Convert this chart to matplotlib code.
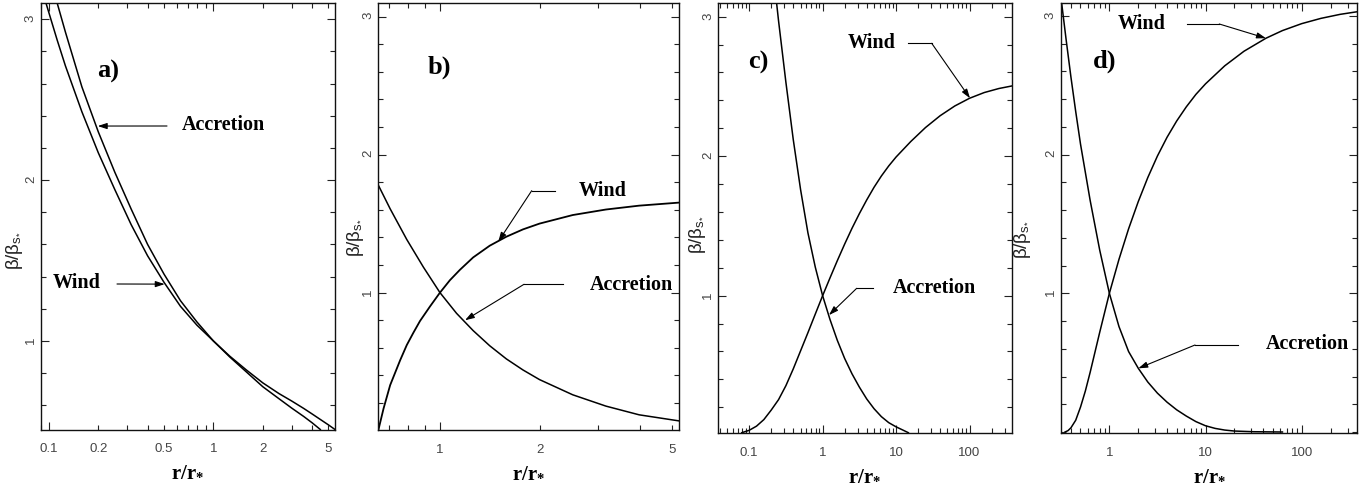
import matplotlib
matplotlib.use('Agg')
import matplotlib.pyplot as plt
from matplotlib import font_manager as fm
from matplotlib.ticker import FixedLocator, FuncFormatter, MultipleLocator
from matplotlib.lines import Line2D

W, H = 1369, 486

# ---------------- data ----------------
# panel a
a_wind_r = [0.0959, 0.1122, 0.1259, 0.1585, 0.1995, 0.2512, 0.3162, 0.3981, 0.5012, 0.631,
            0.7943, 1.0, 1.259, 1.585, 2.0, 2.512, 3.0, 3.548, 4.0, 4.477]
a_wind_y = [3.10, 2.87, 2.71, 2.425, 2.17, 1.942, 1.723, 1.529, 1.364, 1.215,
            1.098, 1.0, 0.90, 0.808, 0.715, 0.64, 0.582, 0.53, 0.49, 0.449]
a_accr_r = [0.1122, 0.1259, 0.1585, 0.1995, 0.2512, 0.3162, 0.3981, 0.5012, 0.631, 0.7943,
            1.0, 1.259, 1.585, 2.0, 2.512, 3.0, 3.548, 4.0, 5.012, 5.5]
a_accr_y = [3.10, 2.92, 2.58, 2.30, 2.05, 1.82, 1.60, 1.415, 1.25, 1.118,
            1.0, 0.905, 0.82, 0.739, 0.672, 0.626, 0.58, 0.545, 0.478, 0.449]
# panel b
b_wind_r = [0.6516, 0.6761, 0.7079, 0.7586, 0.7943, 0.8318, 0.871, 0.9333, 1.0, 1.0715,
            1.1482, 1.2589, 1.4125, 1.5849, 1.7783, 1.9953, 2.5119, 3.1623, 3.9811, 5.248]
b_wind_y = [0.0, 0.16, 0.33, 0.51, 0.62, 0.71, 0.795, 0.90, 1.0, 1.09,
            1.165, 1.255, 1.34, 1.405, 1.458, 1.50, 1.562, 1.602, 1.630, 1.652]
b_accr_r = [0.6516, 0.7079, 0.7943, 0.8913, 1.0, 1.122, 1.2589, 1.4125, 1.5849, 1.7783,
            1.9953, 2.5119, 3.1623, 3.9811, 5.248]
b_accr_y = [1.78, 1.607, 1.385, 1.185, 1.0, 0.85, 0.725, 0.615, 0.52, 0.44,
            0.37, 0.26, 0.178, 0.115, 0.071]
# panel c
c_wind_r = [0.0794, 0.1, 0.1259, 0.1585, 0.1995, 0.2512, 0.3162, 0.3981, 0.5012, 0.631,
            0.7943, 1.0, 1.2589, 1.5849, 1.9953, 2.5119, 3.1623, 3.9811, 5.0119, 6.3096,
            7.9433, 10, 15.849, 25.119, 39.811, 63.096, 100, 158.49, 251.19, 375]
c_wind_y = [0.018, 0.035, 0.065, 0.112, 0.18, 0.255, 0.355, 0.475, 0.605, 0.735,
            0.868, 1.0, 1.127, 1.251, 1.370, 1.483, 1.588, 1.686, 1.777, 1.858,
            1.930, 1.994, 2.105, 2.205, 2.29, 2.36, 2.415, 2.456, 2.485, 2.503]
c_accr_r = [0.236, 0.2512, 0.3162, 0.3981, 0.5012, 0.631, 0.7943, 1.0, 1.2589, 1.5849,
            1.9953, 2.5119, 3.1623, 3.9811, 5.0119, 6.3096, 7.9433, 10, 12.589, 14.7]
c_accr_y = [3.10, 2.97, 2.53, 2.12, 1.76, 1.45, 1.205, 1.0, 0.83, 0.68,
            0.55, 0.44, 0.345, 0.26, 0.19, 0.133, 0.09, 0.06, 0.035, 0.018]
# panel d
d_wind_r = [0.346, 0.3715, 0.3981, 0.4467, 0.5012, 0.5623, 0.631, 0.7943, 1.0, 1.2589,
            1.5849, 1.9953, 2.5119, 3.1623, 3.9811, 5.0119, 6.3096, 7.9433, 10, 15.849,
            25.119, 42.56, 63.096, 100, 158.49, 251.19, 379.3]
d_wind_y = [0.0, 0.01, 0.03, 0.085, 0.18, 0.295, 0.43, 0.72, 1.0, 1.245,
            1.465, 1.66, 1.835, 1.99, 2.125, 2.242, 2.344, 2.434, 2.51, 2.64,
            2.745, 2.839, 2.894, 2.944, 2.982, 3.011, 3.03]
d_accr_r = [0.3192, 0.3548, 0.3981, 0.4467, 0.5012, 0.631, 0.7943, 1.0, 1.2589, 1.5849,
            2.0, 2.5119, 3.1623, 3.9811, 5.0119, 6.3096, 7.9433, 10, 12.589, 15.849,
            19.953, 31.623, 63.096]
d_accr_y = [3.09, 2.83, 2.56, 2.31, 2.075, 1.67, 1.31, 1.0, 0.76, 0.58,
            0.459, 0.36, 0.28, 0.215, 0.16, 0.115, 0.075, 0.045, 0.026, 0.014,
            0.007, 0.002, 0.0]

# tick labels
a_xticks = [0.1, 0.2, 0.5, 1, 2, 5]
b_xticks = [1, 2, 5]
c_xticks = [0.1, 1, 10, 100]
d_xticks = [1, 10, 100]
y_major = [1, 2, 3]
panel_tags = ['a)', 'b)', 'c)', 'd)']


# ---------------- fonts ----------------
def font_ok(name):
    try:
        fm.findfont(fm.FontProperties(family=name), fallback_to_default=False)
        return True
    except Exception:
        return False

NARROW = font_ok('Liberation Sans Narrow')
TICK_FAMILY = 'Liberation Sans Narrow' if NARROW else 'Liberation Sans'
TICK_SIZE = 11 if NARROW else 9.5
SERIF = 'Liberation Serif'

plt.rcParams['mathtext.fontset'] = 'custom'
plt.rcParams['mathtext.rm'] = 'Liberation Serif'
plt.rcParams['mathtext.bf'] = 'Liberation Serif:bold'
plt.rcParams['mathtext.it'] = 'Liberation Serif:italic'
plt.rcParams['mathtext.sf'] = 'Liberation Sans'

fig = plt.figure(figsize=(W / 100, H / 100), dpi=100)


def add_axes_px(left, right, top, bottom):
    return fig.add_axes([left / W, 1 - bottom / H, (right - left) / W, (bottom - top) / H])


def fxy(x, y):
    return (x / W, 1 - y / H)


def style_axes(ax, xlim, ylim, labelled, xmajor, label_x, label_y):
    ax.set_xscale('log')
    ax.set_xlim(*xlim)
    ax.set_ylim(*ylim)
    lo, hi = xlim
    majors_r = [round(t, 6) for t in xmajor]
    minors = []
    dec = 0.01
    while dec < 1000:
        for m in range(2, 10):
            v = m * dec
            if lo <= v <= hi and round(v, 6) not in majors_r:
                minors.append(v)
        dec *= 10
    ax.xaxis.set_major_locator(FixedLocator(xmajor))
    ax.xaxis.set_minor_locator(FixedLocator(minors))
    labmap = {round(v, 6): ('%g' % v) for v in labelled}
    fmt = FuncFormatter(lambda v, p: labmap.get(round(v, 6), ''))
    ax.xaxis.set_major_formatter(fmt)
    ax.xaxis.set_minor_formatter(fmt)
    ax.yaxis.set_major_locator(FixedLocator(y_major))
    ax.yaxis.set_major_formatter(FuncFormatter(lambda v, p: '%d' % v))
    ax.yaxis.set_minor_locator(MultipleLocator(0.2))
    ax.tick_params(which='both', direction='in', top=True, right=True, width=0.8,
                   color='#222222', labelcolor='#444444', labelsize=TICK_SIZE)
    ax.tick_params(which='major', length=6)
    ax.tick_params(which='minor', length=3.5)
    ax.tick_params(axis='x', which='both', pad=10)
    ax.tick_params(axis='y', which='both', pad=3, labelrotation=90)
    for lab in ax.get_xticklabels(which='both') + ax.get_yticklabels():
        lab.set_fontfamily(TICK_FAMILY)
    for sp in ax.spines.values():
        sp.set_linewidth(1.0)
        sp.set_color('#111111')
    ax.set_xlabel(r'$\mathbf{r/r}_{\mathbf{*}}$', fontsize=15)
    ax.xaxis.set_label_coords(0.5, -0.072)
    ax.set_ylabel('β/β$_{\\mathsf{s}_{\\mathsf{*}}}$', fontsize=13.5, fontfamily='Liberation Sans',
                  color='#222222')
    ax.yaxis.set_label_coords(label_x, label_y)


def arrow(ax, tip, elbow, start=None):
    ax.annotate('', xy=tip, xycoords='data', xytext=fxy(*elbow), textcoords='figure fraction',
                arrowprops=dict(arrowstyle='-|>,head_length=0.55,head_width=0.18', color='k',
                                lw=0.8, shrinkA=0, shrinkB=0, mutation_scale=10))
    if start is not None:
        x0, y0 = fxy(*start)
        x1, y1 = fxy(*elbow)
        fig.add_artist(Line2D([x0, x1], [y0, y1], transform=fig.transFigure, color='k', lw=0.8))


def label(x, y, s):
    fig.text(*fxy(x, y), s, ha='left', va='center', fontfamily=SERIF, fontweight='bold',
             fontsize=14.5)


def tag(ax, x, y, s):
    ax.text(x, y, s, transform=ax.transAxes, fontfamily=SERIF, fontweight='bold',
            fontsize=19, va='center', ha='left')


LW = 1.1

# ---------------- panel a ----------------
ax = add_axes_px(41, 335, 2.7, 429.5)
ax.plot(a_wind_r, a_wind_y, color='k', lw=LW)
ax.plot(a_accr_r, a_accr_y, color='k', lw=LW)
style_axes(ax, (0.0894, 5.5), (0.449, 3.103), a_xticks, [0.1, 1], -0.055, 0.42)
tag(ax, 0.19, 0.84, panel_tags[0])
label(182, 125, 'Accretion')
arrow(ax, (0.198, 2.336), (167, 126))
label(53, 283, 'Wind')
arrow(ax, (0.506, 1.353), (117, 284))

# ---------------- panel b ----------------
ax = add_axes_px(378.3, 679, 2.7, 430)
ax.plot(b_wind_r, b_wind_y, color='k', lw=LW + 0.2)
ax.plot(b_accr_r, b_accr_y, color='k', lw=LW)
style_axes(ax, (0.652, 5.25), (0.005, 3.1), b_xticks, [1], -0.04, 0.45)
tag(ax, 0.163, 0.848, panel_tags[1])
label(579, 191, 'Wind')
arrow(ax, (1.499, 1.37), (531.7, 190.7), (555, 190.7))
label(590, 285, 'Accretion')
arrow(ax, (1.19, 0.80), (524, 284.3), (563.3, 284.3))

# ---------------- panel c ----------------
ax = add_axes_px(718.3, 1011.7, 2.7, 432.7)
ax.plot(c_wind_r, c_wind_y, color='k', lw=LW)
ax.plot(c_accr_r, c_accr_y, color='k', lw=LW)
style_axes(ax, (0.038, 375), (0.018, 3.1), c_xticks, [0.1, 1, 10, 100], -0.034, 0.46)
tag(ax, 0.102, 0.862, panel_tags[2])
label(848, 43.3, 'Wind')
arrow(ax, (101.5, 2.415), (931.7, 43.3), (908.3, 43.3))
label(893, 288.3, 'Accretion')
arrow(ax, (1.22, 0.861), (856.7, 288.3), (872.7, 288.3))

# ---------------- panel d ----------------
ax = add_axes_px(1061, 1357.3, 2.7, 432.7)
ax.plot(d_wind_r, d_wind_y, color='k', lw=LW)
ax.plot(d_accr_r, d_accr_y, color='k', lw=LW)
style_axes(ax, (0.314, 379), (-0.005, 3.095), d_xticks, [1, 10, 100], -0.095, 0.45)
tag(ax, 0.108, 0.864, panel_tags[3])
label(1118, 24, 'Wind')
arrow(ax, (42.5, 2.839), (1219.3, 24), (1186.7, 24))
label(1266, 344.3, 'Accretion')
arrow(ax, (2.0, 0.459), (1195, 345), (1238.3, 345))

fig.savefig('out.png', dpi=100)
